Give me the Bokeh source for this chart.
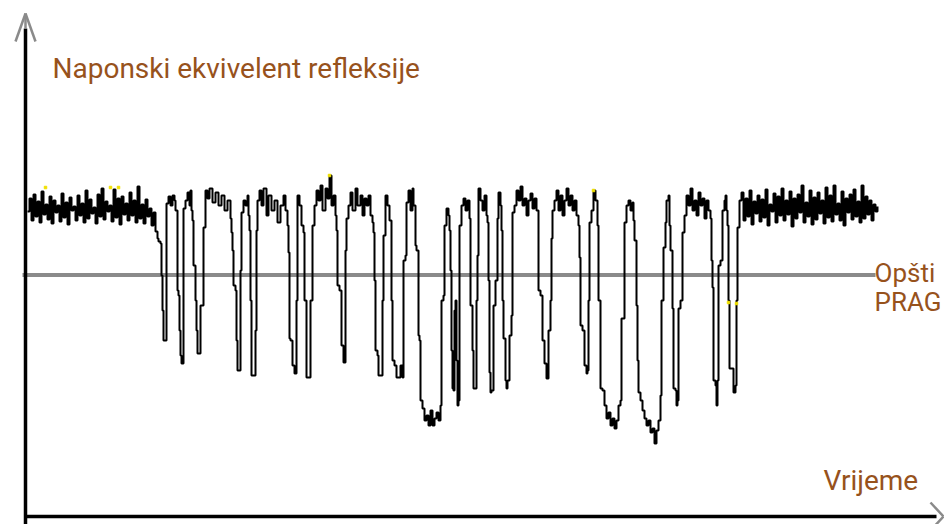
from bokeh.plotting import figure
from bokeh.models import Range1d, Label
from bokeh.embed import file_html
from bokeh.resources import INLINE

# ---- data (time in samples, level in arbitrary voltage units) ----
lead_t = [27, 29, 31, 33, 35, 37, 39, 41, 43, 45, 47, 49, 51, 53, 55, 57, 59, 61, 63, 65,
          67, 69, 71, 73, 75, 77, 79, 81, 83, 85, 87, 89, 91, 93, 95, 97, 99, 101, 103, 105,
          107, 109, 111, 113, 115, 117, 119, 121, 123, 125, 127, 129, 131, 133, 135, 137,
          139, 141, 143, 145, 147, 149, 151, 153, 155, 157]
lead_v = [305, 318, 296, 322, 300, 315, 294, 325, 302, 312,
          297, 320, 293, 316, 304, 311, 295, 323, 299, 314,
          292, 319, 306, 310, 296, 321, 301, 313, 294, 326,
          298, 317, 303, 309, 293, 322, 300, 328, 297, 315,
          305, 311, 295, 327, 299, 318, 292, 320, 302, 313,
          296, 324, 301, 316, 294, 330, 298, 312, 293, 317,
          300, 308, 291, 304, 285, 278]

burst_t = [158, 160, 161, 162, 163, 165, 166, 168, 170, 172, 174, 175, 177, 178, 179, 180,
           181, 182, 183, 185, 187, 189, 190, 191, 192, 193, 195, 196, 197, 199, 200, 203,
           205, 207, 209, 212, 215, 218, 221, 224, 227, 230, 231, 232, 233, 235, 236, 237,
           238, 240, 241, 243, 245, 247, 248, 249, 250, 251, 253, 255, 256, 257, 259, 261,
           263, 266, 268, 271, 274, 277, 280, 283, 285, 287, 288, 289, 290, 292, 294, 295,
           296, 297, 299, 301, 303, 304, 306, 308, 310, 312, 314, 316, 318, 320, 322, 325,
           327, 329, 331, 333, 335, 336, 337, 339, 341, 343, 344, 345, 346, 348, 350, 352,
           355, 357, 360, 362, 364, 366, 368, 370, 372, 373, 374, 375, 377, 378, 381, 382,
           383, 385, 387, 389, 391, 392, 394, 396, 398, 400, 402, 403, 405, 406, 408, 410,
           412, 413, 415, 416, 418, 419, 420, 422, 424, 426, 428, 430, 432, 434, 436, 438,
           440, 441, 443, 444, 446, 448, 449, 450, 451, 452, 453, 454, 455, 456, 457, 458,
           459, 461, 463, 465, 467, 469, 470, 472, 473, 474, 476, 477, 478, 480, 482, 484,
           486, 487, 488, 489, 490, 491, 493, 495, 497, 498, 500, 501, 502, 503, 505, 506,
           507, 509, 511, 512, 514, 516, 518, 520, 522, 524, 526, 528, 530, 532, 534, 536,
           538, 540, 542, 544, 546, 547, 548, 550, 551, 552, 554, 556, 558, 560, 562, 564,
           566, 568, 570, 572, 574, 576, 578, 579, 580, 582, 584, 586, 587, 588, 589, 591,
           593, 595, 597, 598, 600, 602, 604, 606, 608, 610, 612, 614, 616, 618, 620, 621,
           623, 624, 626, 628, 630, 632, 633, 634, 636, 637, 638, 640, 642, 644, 646, 648,
           650, 652, 654, 656, 658, 660, 661, 663, 665, 666, 668, 669, 670, 672, 673, 675,
           676, 677, 678, 680, 682, 684, 686, 688, 690, 692, 694, 696, 698, 700, 702, 704,
           706, 708, 710, 711, 712, 713, 715, 716, 717, 718, 720, 722, 724, 725, 726, 727,
           728, 729, 731, 733, 735, 736, 737, 739]
burst_v = [275, 273, 241, 206, 176, 176, 313, 320, 311, 321, 316, 306, 226, 221, 186, 161,
           153, 153, 308, 316, 324, 311, 326, 306, 296, 251, 216, 186, 163, 163, 211, 289,
           326, 318, 328, 314, 324, 311, 321, 306, 316, 298, 284, 266, 231, 226, 176, 146,
           146, 246, 304, 316, 311, 321, 301, 286, 216, 141, 141, 186, 286, 316, 326, 311,
           328, 301, 321, 306, 316, 294, 311, 321, 306, 291, 264, 178, 176, 151, 143, 143,
           216, 321, 311, 291, 284, 216, 139, 139, 216, 291, 311, 326, 316, 331, 306, 328,
           318, 341, 311, 321, 301, 286, 231, 226, 171, 154, 154, 266, 298, 311, 324, 306,
           328, 311, 321, 301, 318, 311, 321, 301, 294, 284, 236, 166, 161, 141, 141, 216,
           281, 321, 311, 296, 216, 156, 151, 139, 139, 151, 139, 256, 261, 314, 326, 306,
           328, 311, 271, 266, 181, 176, 116, 108, 96, 101, 91, 106, 91, 98, 104, 96,
           111, 216, 221, 291, 308, 301, 286, 246, 166, 128, 126, 206, 216, 156, 111, 116,
           291, 311, 318, 306, 316, 298, 211, 166, 128, 128, 216, 261, 328, 316, 306, 321,
           301, 294, 236, 144, 124, 126, 211, 236, 298, 324, 311, 286, 216, 178, 136, 128,
           136, 181, 201, 304, 311, 326, 316, 330, 311, 318, 301, 316, 323, 308, 318, 306,
           226, 221, 176, 153, 138, 138, 186, 216, 278, 306, 316, 326, 306, 321, 301, 316,
           328, 311, 321, 306, 316, 301, 291, 259, 191, 186, 151, 143, 146, 216, 294, 306,
           326, 316, 291, 216, 128, 126, 111, 98, 104, 91, 98, 88, 96, 111, 116, 198,
           198, 294, 311, 316, 306, 314, 296, 276, 211, 156, 124, 116, 106, 98, 91, 96,
           84, 88, 73, 86, 96, 121, 216, 269, 294, 316, 321, 291, 266, 208, 128, 126,
           111, 116, 208, 216, 284, 301, 321, 311, 328, 306, 316, 301, 324, 311, 318, 298,
           316, 306, 298, 256, 229, 136, 131, 111, 136, 251, 256, 306, 316, 321, 306, 291,
           216, 148, 148, 124, 131, 216, 289, 316]

tail_t = [741, 743, 745, 747, 749, 751, 753, 755, 757, 759, 761, 763, 765, 767, 769, 771,
          773, 775, 777, 779, 781, 783, 785, 787, 789, 791, 793, 795, 797, 799, 801, 803,
          805, 807, 809, 811, 813, 815, 817, 819, 821, 823, 825, 827, 829, 831, 833, 835,
          837, 839, 841, 843, 845, 847, 849, 851, 853, 855, 857, 859, 861, 863, 865, 867,
          869, 871, 873, 875, 877]
tail_v = [324, 296, 318, 300, 326, 292, 315, 303, 321, 295,
          317, 299, 327, 291, 312, 305, 323, 294, 320, 301,
          328, 296, 316, 302, 325, 290, 318, 298, 322, 304,
          331, 294, 314, 300, 326, 292, 319, 297, 324, 303,
          316, 293, 329, 299, 321, 295, 331, 302, 313, 296,
          325, 291, 318, 304, 322, 297, 327, 300, 315, 294,
          331, 298, 320, 302, 316, 296, 312, 305, 310]

threshold_level = 241.5          # "Opšti PRAG"
threshold_t = [22, 875]

glitch_t = [45, 110, 118, 329, 593, 728, 736]
glitch_v = [329, 329, 329, 341, 326, 214, 213]

signal_t = lead_t + burst_t + tail_t
signal_v = lead_v + burst_v + tail_v

BROWN = "#97521c"
GRAY = "#8a8a8a"
FONT = "Roboto"

p = figure(width=944, height=524, x_range=Range1d(0, 944), y_range=Range1d(-8, 516),
           output_backend="svg", toolbar_location=None, min_border=0,
           x_axis_location=None, y_axis_location=None)
p.grid.visible = False
p.outline_line_color = None
p.background_fill_color = "white"
p.border_fill_color = "white"

# threshold
p.line(threshold_t, [threshold_level, threshold_level], line_color=GRAY, line_width=4)

# signal (sampled, drawn as a staircase)
p.step(signal_t, signal_v, mode="after", line_color="black", line_width=2)
p.scatter(glitch_t, glitch_v, marker="square", size=2.5, color="#f0e000")

# axes (decorative arrows)
p.segment(x0=[25], y0=[488], x1=[25], y1=[-8], line_color="black", line_width=3.5)
p.segment(x0=[25, 25, 25], y0=[503, 503, 503], x1=[25, 15, 35], y1=[488, 475, 475],
          line_color=GRAY, line_width=2.5)
p.segment(x0=[24], y0=[0], x1=[936], y1=[0], line_color="black", line_width=3.5)
p.segment(x0=[930, 930], y0=[14, -14], x1=[943, 943], y1=[0, 0], line_color=GRAY,
          line_width=2.5)

# labels
p.add_layout(Label(x=52, y=448, text="Naponski ekvivelent refleksije", text_color=BROWN,
                   text_font=FONT, text_font_size="28px", text_baseline="alphabetic"))
p.add_layout(Label(x=874, y=244, text="Opšti", text_color=BROWN,
                   text_font=FONT, text_font_size="26px", text_baseline="alphabetic"))
p.add_layout(Label(x=874, y=215, text="PRAG", text_color=BROWN,
                   text_font=FONT, text_font_size="26px", text_baseline="alphabetic"))
p.add_layout(Label(x=823, y=36, text="Vrijeme", text_color=BROWN,
                   text_font=FONT, text_font_size="28px", text_baseline="alphabetic"))

open("out.html", "w").write(file_html(p, INLINE))
